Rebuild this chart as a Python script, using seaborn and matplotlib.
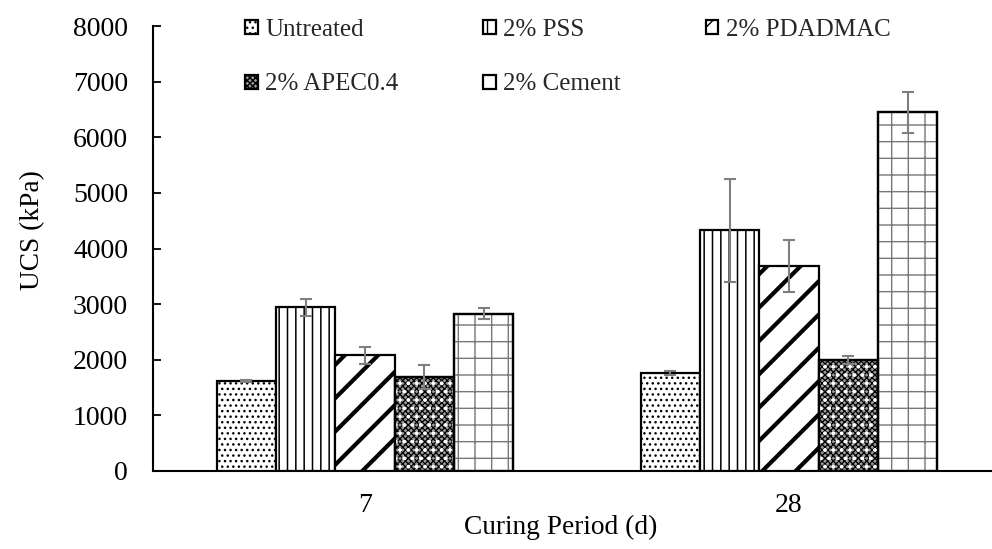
import matplotlib
matplotlib.use("Agg")
import matplotlib.pyplot as plt
from matplotlib.patches import Rectangle
import numpy as np
import pandas as pd
import seaborn as sns

# UCS results by curing period and treatment
periods = ["7", "28"]
treatments = ["Untreated", "2% PSS", "2% PDADMAC", "2% APEC0.4", "2% Cement"]
ucs_untreated = [1620, 1760]
ucs_pss = [2940, 4330]
ucs_pdadmac = [2080, 3690]
ucs_apec = [1690, 1990]
ucs_cement = [2830, 6450]
err_untreated = [20, 40]
err_pss = [150, 925]
err_pdadmac = [150, 470]
err_apec = [210, 70]
err_cement = [100, 365]

means = [ucs_untreated, ucs_pss, ucs_pdadmac, ucs_apec, ucs_cement]
errors = [err_untreated, err_pss, err_pdadmac, err_apec, err_cement]

df = pd.DataFrame(
    [(p, t, means[i][j], errors[i][j])
     for i, t in enumerate(treatments) for j, p in enumerate(periods)],
    columns=["period", "treatment", "ucs", "err"],
)

sns.set_theme(style="white")
plt.rcParams["font.family"] = ["Liberation Serif", "DejaVu Serif"]

W, H = 992, 549
fig = plt.figure(figsize=(W / 100, H / 100), dpi=100)
# plot area: left spine at 153 px, baseline at 471 px, 8000 at 26 px
ax = fig.add_axes([153 / W, (H - 471) / H, 848 / W, 445 / H])

sns.barplot(data=df, x="period", y="ucs", hue="treatment",
            order=periods, hue_order=treatments, width=0.7,
            errorbar=None, legend=False, ax=ax,
            palette=["white"] * len(treatments), saturation=1)
ax.set_xlim(-0.5, 1.5)

bar_containers = list(ax.containers)

# pattern, hatch line width for each series
styles = [
    ("...", 1.0),
    ("||", 1.1),
    ("/", 3.0),
    ("xxxxxx", 0.9),
    (None, 1.0),
]

def set_hlw(patch, lw):
    if hasattr(patch, "set_hatch_linewidth"):
        patch.set_hatch_linewidth(lw)
    else:
        patch._hatch_linewidth = lw

for cont, (hatch, hlw) in zip(bar_containers, styles):
    for p in cont:
        p.set_facecolor("white")
        p.set_edgecolor("black")
        p.set_linewidth(1.6)
        p.set_zorder(3)
        if hatch:
            p.set_hatch(hatch)
            set_hlw(p, hlw)

# checkered series: grey base with white dots on top
for p in bar_containers[3]:
    p.set_facecolor("#9c9c9c")
    dots = Rectangle(p.get_xy(), p.get_width(), p.get_height(),
                     facecolor="none", edgecolor="white", lw=0,
                     hatch="..", zorder=3.5)
    set_hlw(dots, 1.6)
    ax.add_patch(dots)
    outline = Rectangle(p.get_xy(), p.get_width(), p.get_height(),
                        facecolor="none", edgecolor="black", lw=1.6,
                        zorder=3.6)
    ax.add_patch(outline)

# grid pattern for the cement series
for p in bar_containers[4]:
    grid = Rectangle(p.get_xy(), p.get_width(), p.get_height(),
                     facecolor="none", edgecolor="#777777", lw=0,
                     hatch="+", zorder=3.1)
    set_hlw(grid, 1.0)
    ax.add_patch(grid)
    outline = Rectangle(p.get_xy(), p.get_width(), p.get_height(),
                        facecolor="none", edgecolor="black", lw=1.6,
                        zorder=3.3)
    ax.add_patch(outline)

# error bars at the bar centres
for cont, err in zip(bar_containers, errors):
    xs = [p.get_x() + p.get_width() / 2 for p in cont]
    ys = [p.get_height() for p in cont]
    ax.errorbar(xs, ys, yerr=err, fmt="none", ecolor="#7f7f7f",
                elinewidth=1.5, capsize=4.3, capthick=1.5, zorder=5)

ax.set_ylim(0, 8000)
ax.set_yticks(np.arange(0, 8001, 1000))
ax.tick_params(axis="y", direction="in", length=5.8, width=1.3,
               pad=18, labelsize=20, colors="black", left=True)
ax.tick_params(axis="x", length=0, pad=16, labelsize=20, colors="black")

for side in ["top", "right"]:
    ax.spines[side].set_visible(False)
for side in ["left", "bottom"]:
    ax.spines[side].set_linewidth(1.5)
    ax.spines[side].set_color("black")

ax.set_xlabel("Curing Period (d)", fontsize=19.7, color="black")
ax.set_ylabel("UCS (kPa)", fontsize=19.7, color="black")
ax.xaxis.set_label_coords((561 - 153) / 848, -0.098)
ax.yaxis.set_label_coords(-0.127, (471 - 230) / 445)

# legend filled row by row: three entries on top, two below
order = [0, 3, 1, 4, 2]
leg = fig.legend([bar_containers[i] for i in order],
                 [treatments[i] for i in order], ncol=3,
                 loc="upper left", bbox_to_anchor=(245 / W, 1 - 19 / H),
                 frameon=False, fontsize=18, borderpad=0, borderaxespad=0,
                 handlelength=0.5, handleheight=0.5, handletextpad=0.3,
                 columnspacing=3.4, labelspacing=1.3)

fig.savefig("out.png", dpi=100)
